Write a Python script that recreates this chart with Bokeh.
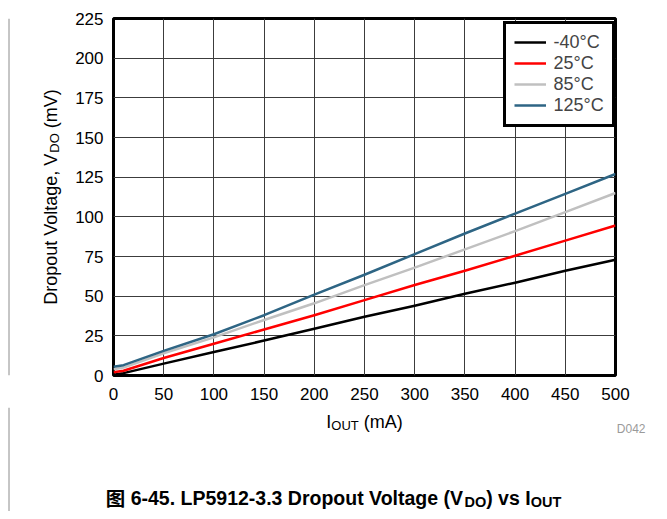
import numpy as np
from bokeh.plotting import figure
from bokeh.layouts import column, row
from bokeh.models import Legend, LegendItem, FixedTicker, Range1d
from bokeh.core.properties import value
from bokeh.embed import file_html
from bokeh.resources import INLINE

# ---- data ----
iout = [0, 10, 50, 100, 150, 200, 250, 300, 350, 400, 450, 500]
vdo_m40 = [0.5, 1.5, 7.5, 14.8, 22.0, 29.5, 37.0, 44.0, 51.5, 58.5, 66.0, 73.0]
vdo_25 = [2.0, 3.0, 11.0, 20.0, 29.0, 38.0, 47.5, 57.0, 66.0, 75.5, 85.0, 94.5]
vdo_85 = [4.0, 5.0, 14.0, 24.0, 35.0, 45.5, 57.0, 68.0, 79.5, 91.0, 103.0, 115.0]
vdo_125 = [5.5, 6.5, 15.5, 26.0, 38.0, 51.0, 63.5, 76.5, 89.5, 102.0, 114.5, 127.0]
series_names = ["-40°C", "25°C", "85°C", "125°C"]
series_colors = ["#000000", "#ff0000", "#c0c0c0", "#2e6584"]
x_ticks = [0, 50, 100, 150, 200, 250, 300, 350, 400, 450, 500]
y_ticks = [0, 25, 50, 75, 100, 125, 150, 175, 200, 225]

FONT = "Liberation Sans"
CJK = "Noto Sans CJK SC"

# Arial/Liberation advance widths (units per 1000 em)
REG = {' ': 278, '(': 333, ')': 333, ',': 278, '-': 333, '.': 278, '°': 400,
       'A': 667, 'C': 722, 'D': 722, 'I': 278, 'L': 556, 'O': 778, 'P': 667,
       'T': 611, 'U': 722, 'V': 667, 'a': 556, 'e': 556, 'g': 556, 'l': 222,
       'm': 833, 'o': 556, 'p': 556, 'r': 333, 's': 500, 't': 278, 'u': 556,
       'v': 500}
BOLD = {' ': 278, '(': 333, ')': 333, ',': 278, '-': 333, '.': 278,
        'D': 722, 'I': 278, 'L': 611, 'O': 778, 'P': 667, 'T': 611, 'U': 722,
        'V': 667, 'a': 556, 'e': 556, 'g': 611, 'l': 278, 'o': 611, 'p': 611,
        'r': 389, 's': 556, 't': 333, 'u': 611, 'v': 556}


def text_width(s, size, bold=False, cjk=False):
    if cjk:
        return size * len(s)
    tbl = BOLD if bold else REG
    return sum(tbl.get(c, 556) for c in s) * size / 1000.0


def total(segments):
    return sum(text_width(t, s, b, c) for t, s, b, _, c in segments)


# ---- overall layout sizes (pixels) ----
W, H = 651, 511
TOP_H = 2
MAIN_TOP, FRAME_W, FRAME_H, MAIN_BOTTOM = 16, 502, 357, 32
MAIN_H = MAIN_TOP + FRAME_H + MAIN_BOTTOM
LEFT_W = 63
BOT_H = H - TOP_H - MAIN_H
BORDER_X = 8.5
FRAME_TOP = TOP_H + MAIN_TOP            # page y of the chart frame top
FRAME_BOT = FRAME_TOP + FRAME_H         # page y of the chart frame bottom


def deco_fig(x0, y0, w, h, pad_top=0, pad_bottom=0):
    """Helper figure; data coords inside its frame = page pixels."""
    f = figure(width=w, height=h, output_backend="svg", toolbar_location=None,
               title=None,
               x_range=Range1d(x0, x0 + w),
               y_range=Range1d(y0 + h - pad_bottom, y0 + pad_top),
               x_axis_location=None, y_axis_location=None,
               min_border_left=0, min_border_right=0,
               min_border_top=pad_top, min_border_bottom=pad_bottom,
               background_fill_color="white", border_fill_color="white",
               outline_line_color=None)
    f.grid.visible = False
    return f


def seq_text(f, segments, x0, y0, rotate=False):
    """segments: (text, size, bold, sub, cjk); x0,y0 = start point on the text's mid line."""
    pos = 0.0
    for text, size, bold, sub, cjk in segments:
        lead = len(text) - len(text.lstrip(" "))
        pos += text_width(" " * lead, size, bold)
        body = text.lstrip(" ")
        shift = 4 if sub else 0
        if rotate:
            x, y, ang = x0 + shift, y0 - pos, np.pi / 2
        else:
            x, y, ang = x0 + pos, y0 + shift, 0.0
        f.text(x=[x], y=[y], text=[body], angle=ang,
               text_font=value(CJK if cjk else FONT),
               text_font_size=value(f"{size}px"),
               text_font_style="bold" if bold else "normal",
               text_align="left", text_baseline="middle", text_color="black")
        pos += text_width(body, size, bold, cjk)


# ---- top strip (page frame line) ----
top = deco_fig(0, 0, W, TOP_H)
top.quad(left=[8], right=[W], top=[0], bottom=[1.5], fill_color="#404040", line_color=None)

# ---- main chart ----
p = figure(width=W - LEFT_W, height=MAIN_H, output_backend="svg", toolbar_location=None,
           title=None,
           x_range=Range1d(0, 500), y_range=Range1d(0, 225),
           min_border_left=50, min_border_right=W - LEFT_W - 50 - FRAME_W,
           min_border_top=MAIN_TOP, min_border_bottom=MAIN_BOTTOM,
           background_fill_color="white", border_fill_color="white")
p.outline_line_color = "black"
p.outline_line_width = 3

for ax in (p.xaxis[0], p.yaxis[0]):
    ax.axis_line_color = None
    ax.major_tick_line_color = None
    ax.minor_tick_line_color = None
    ax.major_tick_out = 0
    ax.major_tick_in = 0
    ax.minor_tick_out = 0
    ax.minor_tick_in = 0
    ax.axis_label_standoff = 0
    ax.major_label_text_font = FONT
    ax.major_label_text_font_size = "17px"
    ax.major_label_text_color = "black"
p.xaxis[0].ticker = FixedTicker(ticks=x_ticks)
p.yaxis[0].ticker = FixedTicker(ticks=y_ticks)
p.xaxis[0].major_label_standoff = 12
p.yaxis[0].major_label_standoff = 10

p.xgrid.ticker = FixedTicker(ticks=x_ticks)
p.ygrid.ticker = FixedTicker(ticks=y_ticks)
for g in (p.xgrid[0], p.ygrid[0]):
    g.grid_line_color = "#3c3c3c"
    g.grid_line_width = 1

renderers = []
for ys, col in zip([vdo_m40, vdo_25, vdo_85, vdo_125], series_colors):
    r = p.line(iout, ys, line_color=col, line_width=2.5, line_join="round")
    renderers.append(r)

legend = Legend(items=[LegendItem(label=n, renderers=[r]) for n, r in zip(series_names, renderers)],
                location=(389.5, 248.5), margin=0, padding=8, spacing=0,
                glyph_width=32, glyph_height=18, label_height=18, label_standoff=8,
                label_text_font=FONT, label_text_font_size="18px",
                border_line_color="black", border_line_width=3, border_line_alpha=1.0,
                background_fill_color="white", background_fill_alpha=1.0)
p.add_layout(legend)

# ---- left strip: y-axis title (frame aligned with the chart frame) ----
left = deco_fig(0, TOP_H, LEFT_W, MAIN_H, pad_top=MAIN_TOP, pad_bottom=MAIN_BOTTOM)
left.segment(x0=[BORDER_X], y0=[FRAME_TOP], x1=[BORDER_X], y1=[FRAME_BOT],
             line_color="#8c8c8c", line_width=1)
ylab = [("Dropout Voltage, V", 18, False, False, False), ("DO", 13, False, True, False),
        (" (mV)", 18, False, False, False)]
seq_text(left, ylab, 50, (FRAME_TOP + FRAME_BOT) / 2 + total(ylab) / 2, rotate=True)

# ---- bottom strip: x-axis title, code, caption ----
y_bot = TOP_H + MAIN_H
bot = deco_fig(0, y_bot, W, BOT_H)
bot.segment(x0=[BORDER_X], y0=[y_bot], x1=[BORDER_X], y1=[H],
            line_color="#8c8c8c", line_width=1)
xlab = [("I", 18, False, False, False), ("OUT", 13, False, True, False),
        (" (mA)", 18, False, False, False)]
seq_text(bot, xlab, 364 - total(xlab) / 2, 421)

bot.text(x=[645], y=[428], text=["D042"], text_font=value(FONT), text_font_size=value("12px"),
         text_align="right", text_baseline="middle", text_color="#9a9a9a")

cap = [("图", 19.5, True, False, True), (" 6-45. LP5912-3.3 Dropout Voltage (V", 19.5, True, False, False),
       ("DO", 14.5, True, True, False), (") vs I", 19.5, True, False, False),
       ("OUT", 14.5, True, True, False)]
seq_text(bot, cap, 333 - total(cap) / 2, 497)

layout = column(top, row(left, p), bot)
open("out.html", "w").write(file_html(layout, INLINE))
